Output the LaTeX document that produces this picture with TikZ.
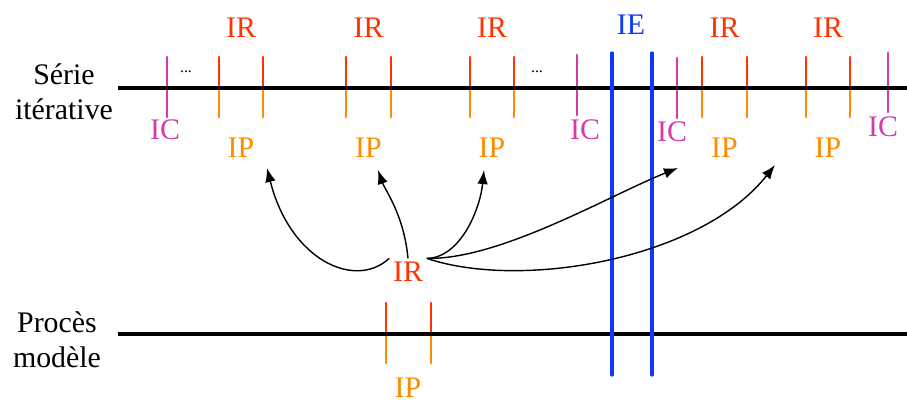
\documentclass[tikz,border=0pt]{standalone}
\usepackage{fontspec}
\setmainfont{Liberation Serif}
\usetikzlibrary{arrows.meta}

\definecolor{irred}{RGB}{255,51,0}
\definecolor{iporange}{RGB}{255,140,0}
\definecolor{icpink}{RGB}{214,58,170}
\definecolor{ieblue}{RGB}{15,55,255}

\begin{document}
\begin{tikzpicture}[x=0.02cm,y=-0.02cm,
  arr/.style={-{Latex[length=8pt,width=6pt]},line width=0.8pt},
  axe/.style={line width=2.2pt},
  trait/.style={line width=1.7pt,line cap=round},
  lab/.style={font=\fontsize{17}{20}\selectfont,inner sep=2pt}]
\useasboundingbox (0,0) rectangle (907,403);

% serie iterative
\node[lab,align=center] (serie) at (64,92) {Série\\itérative};
\foreach \a/\b in {219/263,346/391,470/514,702/747,806/850} {
  \draw[trait,irred] (\a,57) -- (\a,88);
  \draw[trait,irred] (\b,57) -- (\b,88);
  \draw[trait,iporange] (\a,88) -- (\a,117);
  \draw[trait,iporange] (\b,88) -- (\b,117);
  \node[lab,text=irred] (ir\a) at ({(\a+\b)/2},28) {IR};
  \node[lab,text=iporange] (ip\a) at ({(\a+\b)/2},148) {IP};
}
\draw[trait,icpink] (167,57) -- (167,117);
\draw[trait,icpink] (577,55) -- (577,115);
\draw[trait,icpink] (677,58) -- (677,118);
\draw[trait,icpink] (888,53) -- (888,112);
\node[lab,text=icpink] (ic1) at (165,130) {IC};
\node[lab,text=icpink] (ic2) at (585,130) {IC};
\node[lab,text=icpink] (ic3) at (672,132) {IC};
\node[lab,text=icpink] (ic4) at (883,127) {IC};
\node[font=\small] (pts1) at (186,72) {...};
\node[font=\small] (pts2) at (537,72) {...};
\draw[axe] (118,88) -- (907,88);

% proces modele
\node[lab,align=center] (proces) at (57,340) {Procès\\modèle};
\draw[trait,irred] (386,303) -- (386,334);
\draw[trait,irred] (431,303) -- (431,334);
\draw[trait,iporange] (386,334) -- (386,363);
\draw[trait,iporange] (431,334) -- (431,363);
\node[lab,text=iporange] (ipm) at (408,388) {IP};
\draw[axe] (118,334) -- (907,334);

% IE
\draw[trait,ieblue,line width=1.9pt] (612,53) -- (612,375);
\draw[trait,ieblue,line width=1.9pt] (652,53) -- (652,375);
\node[lab,text=ieblue] (ie) at (631,25) {IE};

% fleches
\node[lab,text=irred] (irm) at (408,272) {IR};
\coordinate (t1) at (267,168);
\coordinate (t2) at (378,170);
\coordinate (t3) at (484,170);
\coordinate (t4) at (678,168);
\coordinate (t5) at (775,165);
\draw[arr] (irm.north west) .. controls (355,290) and (290,260) .. (t1);
\draw[arr] (irm.north) .. controls (404,215) and (385,190) .. (t2);
\draw[arr] (irm.north east) .. controls (460,258) and (480,210) .. (t3);
\draw[arr] (irm.north east) .. controls (500,260) and (610,195) .. (t4);
\draw[arr] (irm.north east) .. controls (520,290) and (700,260) .. (t5);
\end{tikzpicture}
\end{document}
